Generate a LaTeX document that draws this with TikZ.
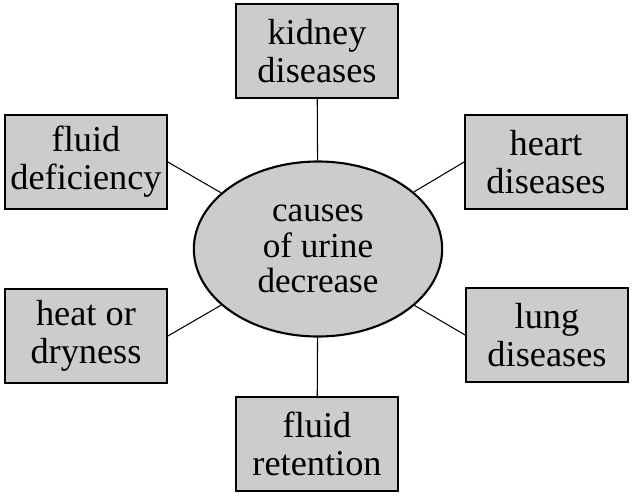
\documentclass[tikz,border=0pt]{standalone}
\usepackage{fontspec}
\setmainfont{Liberation Serif}
\usetikzlibrary{shapes.geometric}
\tikzset{causebox/.style = {draw, fill=mgrey, line width = 1.8pt, minimum width = 4.85cm, minimum height = 2.8cm, inner sep = 0, align = center, font = \fontsize{31}{32.5}\selectfont}}
\tikzset{hub/.style = {draw, fill=mgrey, ellipse, line width = 1.8pt, minimum width = 7.45cm, minimum height = 5.25cm, inner sep = 0, align = center, font = \fontsize{30}{30.5}\selectfont}}
\tikzset{spoke/.style = {line width = 0.9pt}}
\definecolor{mgrey}{rgb}{0.8, 0.8, 0.8}

\begin{document}
\begin{tikzpicture}[x = 0.03cm, y = -0.03cm]
      \useasboundingbox (0, 0) rectangle (633, 499);
      \node [hub] (c) at (318, 249) {causes\\of urine\\decrease};
      \node [causebox] (kd) at (317, 51) {kidney\\diseases};
      \node [causebox] (fd) at (86, 162) {fluid\\deficiency};
      \node [causebox] (hd) at (546, 162) {heart\\diseases};
      \node [causebox] (hod) at (86, 336) {heat or\\dryness};
      \node [causebox] (ld) at (547, 335) {lung\\diseases};
      \node [causebox] (fr) at (317, 444) {fluid\\retention};
      \draw [spoke] (kd) -- (c);
      \draw [spoke] (fr) -- (c);
      \foreach \b/\s in {fd/east, hod/east, hd/west, ld/west} {
        \draw [spoke] (\b.\s) -- (c);
      }
    \end{tikzpicture}
\end{document}
